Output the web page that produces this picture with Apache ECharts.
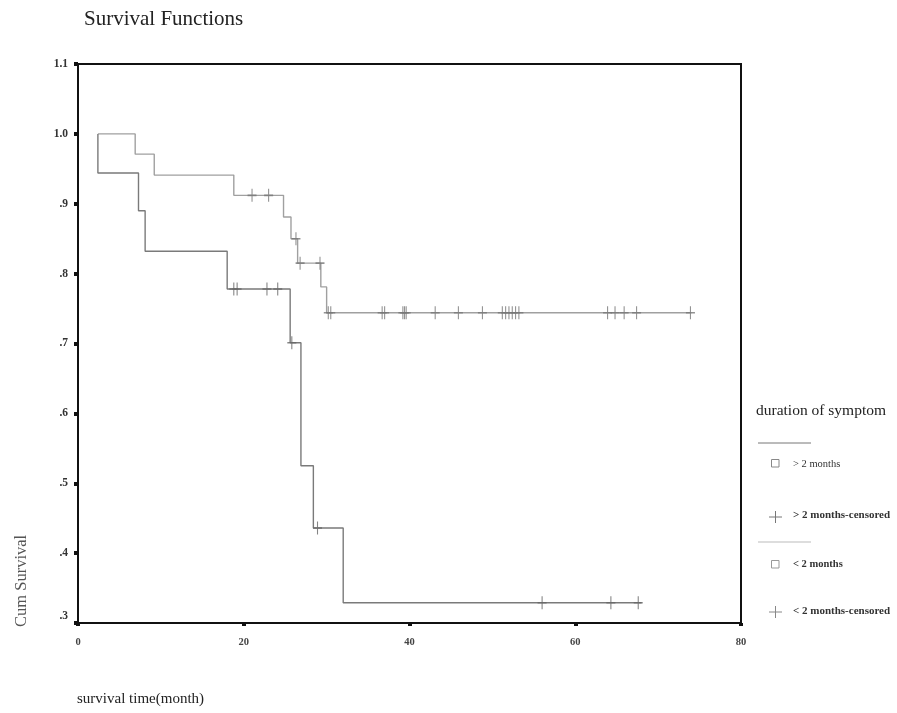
<!DOCTYPE html>
<html>
<head>
<meta charset="utf-8">
<script src="https://cdn.jsdelivr.net/npm/echarts@6/dist/echarts.min.js"></script>
<style>
html,body{margin:0;padding:0;background:#fff;}
#main{width:897px;height:713px;}
</style>
</head>
<body>
<div id="main"></div>
<script>
// ---- data ----
// "> 2 months" group: event steps (time, survival after step)
var gtTimes = [2.4, 2.4, 7.3, 8.1, 18.0, 25.6, 26.9, 28.4, 32.0, 68.0];
var gtSurv  = [1.0, 0.944, 0.890, 0.832, 0.778, 0.701, 0.525, 0.436, 0.329, 0.329];
var gtCensTimes = [18.8, 19.2, 22.8, 24.1, 25.8, 28.9, 56.0, 64.3, 67.6];
var gtCensSurv  = [0.778, 0.778, 0.778, 0.778, 0.701, 0.436, 0.329, 0.329, 0.329];

// "< 2 months" group
var ltTimes = [2.4, 6.9, 9.2, 18.8, 24.8, 25.7, 26.5, 29.3, 30.0, 74.0];
var ltSurv  = [1.0, 0.971, 0.941, 0.912, 0.881, 0.850, 0.815, 0.781, 0.744, 0.744];
var ltCensTimes = [21.0, 23.0, 26.3, 26.8, 29.2, 30.2, 30.5, 36.7, 37.0, 39.2, 39.4, 39.6, 43.1, 45.9, 48.8, 51.2, 51.6, 52.0, 52.4, 52.8, 53.2, 63.9, 64.8, 65.9, 67.4, 73.9];
var ltCensSurv  = [0.912, 0.912, 0.850, 0.815, 0.815, 0.744, 0.744, 0.744, 0.744, 0.744, 0.744, 0.744, 0.744, 0.744, 0.744, 0.744, 0.744, 0.744, 0.744, 0.744, 0.744, 0.744, 0.744, 0.744, 0.744, 0.744];

var xTicks = [0, 20, 40, 60, 80];
var yTickLabels = {'1.1':'1.1','1.0':'1.0','0.9':'.9','0.8':'.8','0.7':'.7','0.6':'.6','0.5':'.5','0.4':'.4','0.3':'.3'};

function zip(a, b){ return a.map(function(v,i){ return [v, b[i]]; }); }

var serif = '"Liberation Serif", "DejaVu Serif", serif';
var plusPath = 'path://M5,0 L5,14 M0,7 L10,7';

var chart = echarts.init(document.getElementById('main'));
chart.setOption({
  animation: false,
  backgroundColor: '#fff',
  title: {
    text: 'Survival Functions',
    left: 79, top: 4,
    textStyle: {fontFamily: serif, fontSize: 21, fontWeight: 'normal', color: '#222'}
  },
  grid: {left: 78, right: 156, top: 64, bottom: 90, show: true, borderColor: '#111', borderWidth: 2},
  xAxis: {
    type: 'value', min: 0, max: 80, interval: 20,
    axisLine: {show: true, lineStyle: {color: '#111', width: 2}},
    axisTick: {show: true, length: 3, lineStyle: {color: '#111', width: 4}},
    splitLine: {show: false},
    axisLabel: {margin: 14, fontFamily: serif, fontSize: 10.5, fontWeight: 'bold', color: '#444',
      formatter: function(v){ return xTicks.indexOf(v) >= 0 ? String(v) : ''; }}
  },
  yAxis: {
    type: 'value', min: 0.3, max: 1.1, interval: 0.1,
    axisLine: {show: true, lineStyle: {color: '#111', width: 2}},
    axisTick: {show: true, length: 4, lineStyle: {color: '#111', width: 4}},
    splitLine: {show: false},
    axisLabel: {margin: 10, fontFamily: serif, fontSize: 11.5, fontWeight: 'bold', color: '#333',
      formatter: function(v){
        var k = v.toFixed(1);
        var t = yTickLabels[k] || '';
        return k === '0.3' ? '{up|' + t + '}' : t;
      },
      rich: {up: {fontFamily: serif, fontSize: 11.5, fontWeight: 'bold', color: '#333', padding: [0, 0, 14, 0]}}
    }
  },
  series: [
    {name: '> 2 months', type: 'line', step: 'end', showSymbol: false, data: zip(gtTimes, gtSurv),
      lineStyle: {color: '#7a7a7a', width: 1.4}, z: 3},
    {name: '< 2 months', type: 'line', step: 'end', showSymbol: false, data: zip(ltTimes, ltSurv),
      lineStyle: {color: '#a0a0a0', width: 1.4}, z: 2},
    {name: '> 2 months-censored', type: 'scatter', data: zip(gtCensTimes, gtCensSurv),
      symbol: plusPath, symbolSize: [9, 13],
      itemStyle: {color: 'rgba(0,0,0,0)', borderColor: '#666', borderWidth: 1.3}, z: 4},
    {name: '< 2 months-censored', type: 'scatter', data: zip(ltCensTimes, ltCensSurv),
      symbol: plusPath, symbolSize: [9, 13],
      itemStyle: {color: 'rgba(0,0,0,0)', borderColor: '#777', borderWidth: 1.3}, z: 4}
  ],
  graphic: [
    {type: 'text', left: 77, top: 692, style: {text: 'survival time(month)', font: '15px ' + serif, fill: '#222'}},
    {type: 'text', x: 13, y: 627, rotation: Math.PI / 2, style: {text: 'Cum Survival', font: '16.5px ' + serif, fill: '#555'}},
    // legend
    {type: 'text', x: 756, y: 403, style: {text: 'duration of symptom', font: '15.5px ' + serif, fill: '#222'}},
    {type: 'line', shape: {x1: 758, y1: 443, x2: 811, y2: 443}, style: {stroke: '#777', lineWidth: 1}},
    {type: 'rect', shape: {x: 771.5, y: 459.5, width: 7.5, height: 7.5}, style: {fill: 'none', stroke: '#888', lineWidth: 1}},
    {type: 'text', x: 793, y: 459, style: {text: '> 2 months', font: '10.5px ' + serif, fill: '#333'}},
    {type: 'line', shape: {x1: 769, y1: 517, x2: 782, y2: 517}, style: {stroke: '#777', lineWidth: 1}},
    {type: 'line', shape: {x1: 775.5, y1: 511, x2: 775.5, y2: 523}, style: {stroke: '#777', lineWidth: 1}},
    {type: 'text', x: 793, y: 510, style: {text: '> 2 months-censored', font: 'bold 11px ' + serif, fill: '#333'}},
    {type: 'line', shape: {x1: 758, y1: 542, x2: 811, y2: 542}, style: {stroke: '#bbb', lineWidth: 1}},
    {type: 'rect', shape: {x: 771.5, y: 560.5, width: 7.5, height: 7.5}, style: {fill: 'none', stroke: '#999', lineWidth: 1}},
    {type: 'text', x: 793, y: 559, style: {text: '< 2 months', font: 'bold 10.5px ' + serif, fill: '#333'}},
    {type: 'line', shape: {x1: 769, y1: 612, x2: 782, y2: 612}, style: {stroke: '#888', lineWidth: 1}},
    {type: 'line', shape: {x1: 775.5, y1: 606, x2: 775.5, y2: 618}, style: {stroke: '#888', lineWidth: 1}},
    {type: 'text', x: 793, y: 606, style: {text: '< 2 months-censored', font: 'bold 11px ' + serif, fill: '#333'}}
  ]
});
</script>
</body>
</html>
